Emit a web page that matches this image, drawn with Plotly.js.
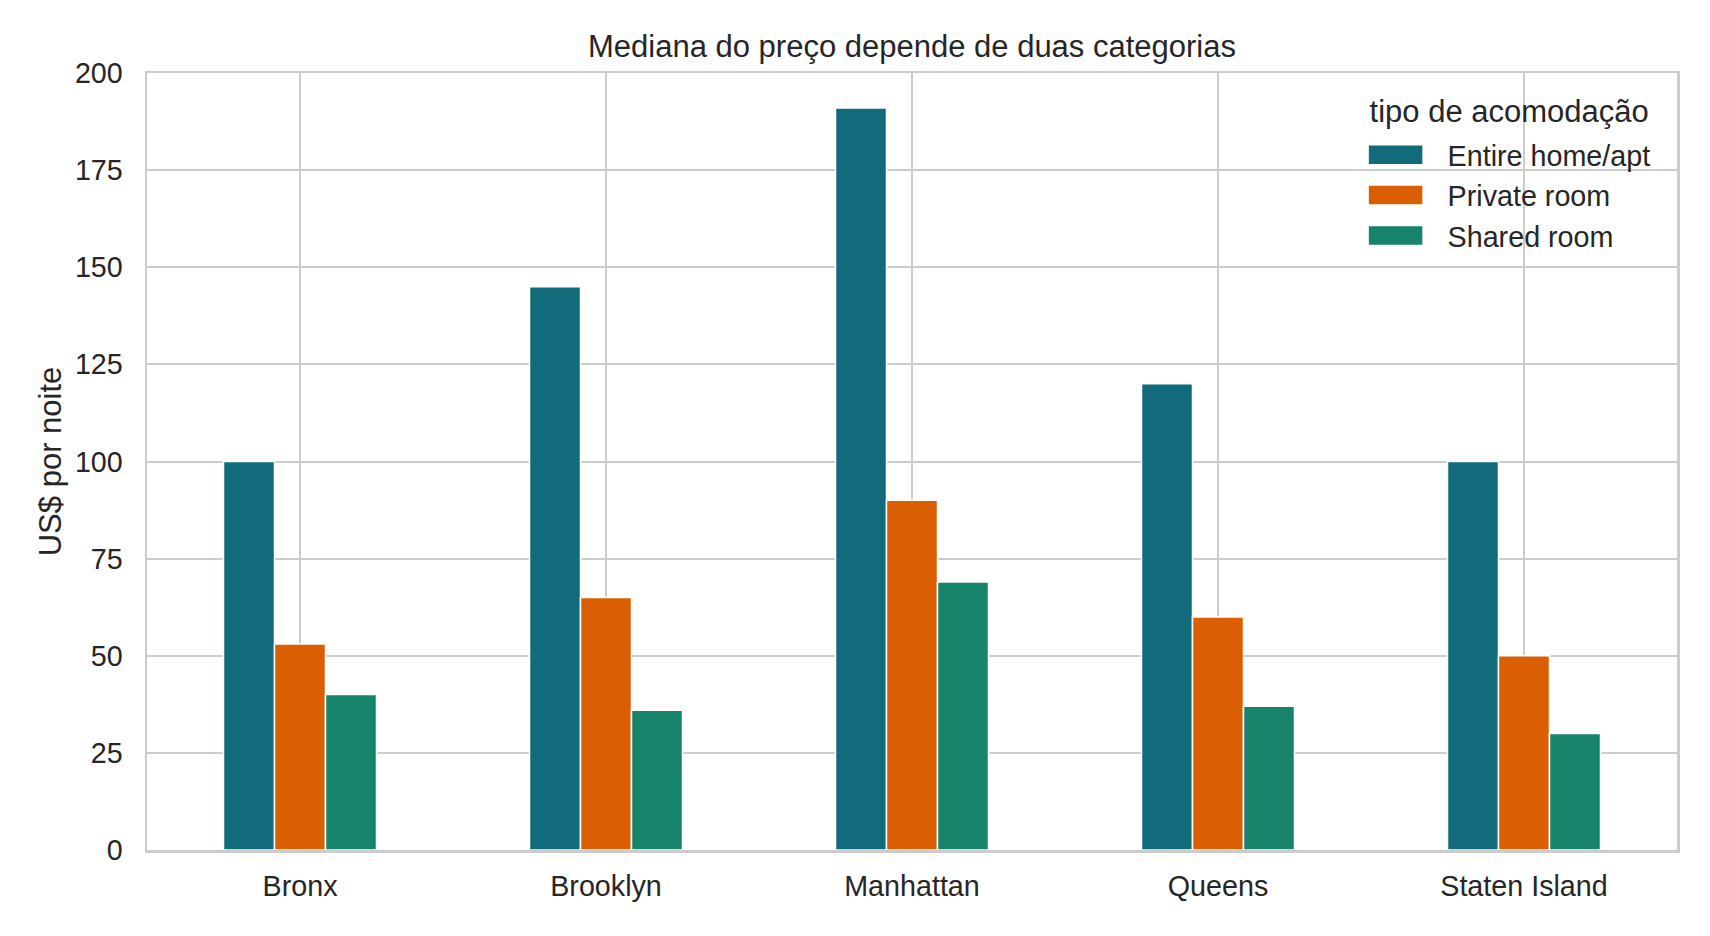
<!DOCTYPE html>
<html>
<head>
<meta charset="utf-8">
<script src="https://cdn.plot.ly/plotly-3.0.1.min.js"></script>
<style>
  html, body { margin: 0; padding: 0; background: #fff; }
  #chart { width: 1710px; height: 936px; }
</style>
</head>
<body>
<div id="chart"></div>
<script>
var bairros = ['Bronx', 'Brooklyn', 'Manhattan', 'Queens', 'Staten Island'];

var entireHome = [100, 145, 191, 120, 100];
var privateRoom = [53, 65, 90, 60, 50];
var sharedRoom = [40, 36, 69, 37, 30];

var seriesNames = ['Entire home/apt', 'Private room', 'Shared room'];
var seriesColors = ['#116b7a', '#d95f02', '#17836b'];
var yTicks = [0, 25, 50, 75, 100, 125, 150, 175, 200];

var txt = '#262626';
var grid = '#cccccc';
var fontFam = '"Liberation Sans", Arial, sans-serif';

function barTrace(vals, i) {
  return {
    x: bairros,
    y: vals,
    type: 'bar',
    name: seriesNames[i],
    marker: {
      color: seriesColors[i],
      line: {color: '#ffffff', width: 1.5}
    },
    hoverinfo: 'x+y+name'
  };
}

var data = [
  barTrace(entireHome, 0),
  barTrace(privateRoom, 1),
  barTrace(sharedRoom, 2)
];

var layout = {
  width: 1710,
  height: 936,
  margin: {l: 147, r: 33, t: 73, b: 86},
  paper_bgcolor: '#ffffff',
  plot_bgcolor: '#ffffff',
  font: {family: fontFam, size: 28.7, color: txt},
  title: {
    text: 'Mediana do preço depende de duas categorias',
    font: {size: 31, color: txt},
    x: 0.5,
    xref: 'paper',
    xanchor: 'center',
    y: 1 - 46 / 936,
    yanchor: 'middle'
  },
  barmode: 'group',
  bargap: 0.5,
  bargroupgap: 0,
  xaxis: {
    range: [-0.5, 4.5],
    showgrid: true,
    gridcolor: grid,
    gridwidth: 2,
    showline: true,
    mirror: true,
    linecolor: grid,
    linewidth: 2.5,
    ticks: '',
    ticklabelstandoff: 9,
    tickfont: {size: 28.7, color: txt},
    zeroline: false
  },
  yaxis: {
    range: [0, 200],
    tickvals: yTicks,
    showgrid: true,
    gridcolor: grid,
    gridwidth: 2,
    showline: true,
    mirror: true,
    linecolor: grid,
    linewidth: 2.5,
    ticks: '',
    ticklabelstandoff: 16,
    tickfont: {size: 28.7, color: txt},
    zeroline: false,
    title: {
      text: 'US$ por noite',
      font: {size: 31, color: txt},
      standoff: 4
    }
  },
  legend: {
    title: {text: 'tipo de acomodação', font: {size: 31, color: txt}},
    font: {size: 28.7, color: txt},
    x: 0.986,
    xanchor: 'right',
    y: 0.979,
    yanchor: 'top',
    bgcolor: 'rgba(255,255,255,0)',
    borderwidth: 0,
    itemwidth: 70
  },
  showlegend: true
};

Plotly.newPlot('chart', data, layout, {displayModeBar: false, staticPlot: true}).then(function (gd) {
  // wider, flatter legend swatches lined up under the legend title
  gd.querySelectorAll('.legend .legendpoints path').forEach(function (p) {
    p.setAttribute('d', 'M-39.5,-10h55v20h-55z');
  });
  // a bit more room between legend title and the entries
  var t = gd.querySelector('.legend .legendtitletext');
  if (t) {
    t.setAttribute('y', (parseFloat(t.getAttribute('y')) || 0) - 8);
  }
});
</script>
</body>
</html>
